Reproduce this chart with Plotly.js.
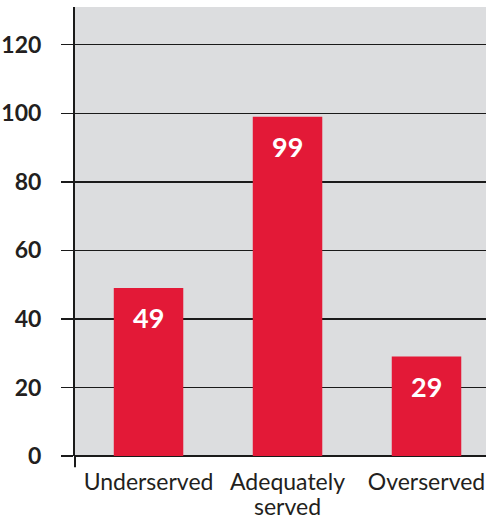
<!DOCTYPE html>
<html><head><meta charset="utf-8">
<script src="https://cdn.plot.ly/plotly-3.0.1.min.js"></script>
<style>body{margin:0;background:#fff}#c{width:486px;height:521px}</style>
</head><body><div id="c"></div>
<script>
const categories = ["Underserved", "Adequately served", "Overserved"];
const labelLine1 = ["Underserved", "Adequately", "Overserved"];
const labelLine2 = ["", "served", ""];
const values = [49, 99, 29];
const yTicks = [0, 20, 40, 60, 80, 100, 120];

const FONT = 'Lato, "Noto Sans", sans-serif';
const INK = '#231f20';

const trace = {
  type: 'bar', x: categories, y: values,
  marker: {color: '#e31937'},
  width: 0.5, hoverinfo: 'none'
};
const annotations = [];
values.forEach((v, i) => {
  annotations.push({x: categories[i], y: v, xref: 'x', yref: 'y', text: String(v),
    showarrow: false, yanchor: 'top', yshift: -11,
    font: {family: FONT, size: 27, color: '#ffffff', weight: 'bold'}});
  if (labelLine2[i]) {
    annotations.push({x: categories[i], y: 0, xref: 'x', yref: 'paper', text: labelLine2[i],
      showarrow: false, yanchor: 'top', yshift: -35, borderpad: 0,
      font: {family: FONT, size: 23, color: INK}});
  }
});
const layout = {
  width: 486, height: 521,
  margin: {l: 75, r: 0, t: 7, b: 65},
  paper_bgcolor: '#ffffff', plot_bgcolor: '#dcdddf',
  showlegend: false,
  xaxis: {
    range: [-0.529, 2.428], showgrid: false, zeroline: false, showline: false,
    ticks: '', tickvals: categories, ticktext: labelLine1, ticklabelstandoff: 10,
    tickfont: {family: FONT, size: 23, color: INK},
    fixedrange: true
  },
  yaxis: {
    range: [0, 131], tickvals: yTicks, ticktext: yTicks.map(String),
    showgrid: true, gridcolor: '#1a1a1a', gridwidth: 1.5,
    zeroline: true, zerolinecolor: '#1a1a1a', zerolinewidth: 2,
    showline: true, linecolor: '#1a1a1a', linewidth: 2,
    ticks: 'outside', ticklen: 12, tickcolor: '#1a1a1a', tickwidth: 1.5,
    ticklabelstandoff: 15,
    tickfont: {family: FONT, size: 23, color: INK, weight: 'bold'}
  },
  annotations: annotations,
  shapes: [{type: 'line', xref: 'paper', yref: 'paper', x0: 0, x1: 0, y0: 0, y1: -0.025,
    line: {color: '#1a1a1a', width: 2}}]
};
Plotly.newPlot('c', [trace], layout, {displayModeBar: false, staticPlot: true});
</script></body></html>
